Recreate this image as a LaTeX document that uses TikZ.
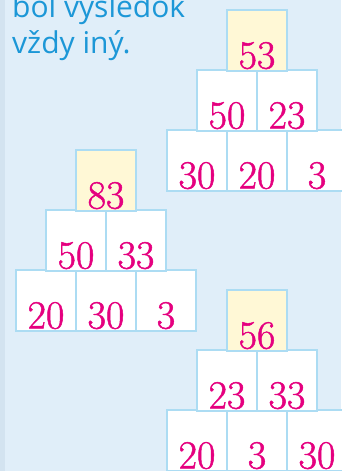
\documentclass[tikz,border=0pt]{standalone}
\usepackage{fontspec}
\newfontfamily\notefont{Open Sans}
\newfontfamily\numfont{Latin Modern Roman}[FakeBold=1.2]
\usetikzlibrary{positioning}
\definecolor{pagebg}{HTML}{E0EEF9}
\definecolor{edgebg}{HTML}{D3E3F0}
\definecolor{inkblue}{HTML}{1C97D7}
\definecolor{cellline}{HTML}{ACDCF3}
\definecolor{topfill}{HTML}{FFF8D6}
\definecolor{numpink}{HTML}{E5007F}

\begin{document}
\begin{tikzpicture}[
    x=1pt, y=-1pt,
    cell/.style={draw=cellline, line width=2pt, fill=white,
                 minimum width=60pt, minimum height=60pt,
                 inner sep=2pt, text height=57pt, text depth=0pt,
                 text=numpink, font=\numfont\fontsize{40}{40}\selectfont},
    topcell/.style={cell, fill=topfill},
  ]

  % Background
  \fill[pagebg] (0,0) rectangle (341,471);
  \fill[edgebg] (0,0) rectangle (5,471);
  \useasboundingbox (0,0) rectangle (341,471);

  % --- Text (top left) ---
  \node[anchor=base west, align=left, inner sep=0pt, text=inkblue,
        font=\notefont\fontsize{30}{36}\selectfont] (note) at (12,53)
    {bol výsledok\\vždy iný.};

  % --- Pyramid 1 (top right) ---
  \node[cell] (a1) at (197,160) {30};
  \node[cell] (a2) at (257,160) {20};
  \node[cell] (a3) at (317,160) {3};
  \node[cell] (a12) at (227,100) {50};
  \node[cell] (a23) at (287,100) {23};
  \node[topcell] (atop) at (257,40) {53};

  % --- Pyramid 2 (left) ---
  \node[cell] (b1) at (46,300) {20};
  \node[cell] (b2) at (106,300) {30};
  \node[cell] (b3) at (166,300) {3};
  \node[cell] (b12) at (76,240) {50};
  \node[cell] (b23) at (136,240) {33};
  \node[topcell] (btop) at (106,180) {83};

  % --- Pyramid 3 (bottom right) ---
  \node[cell] (c1) at (197,440) {20};
  \node[cell] (c2) at (257,440) {3};
  \node[cell] (c3) at (317,440) {30};
  \node[cell] (c12) at (227,380) {23};
  \node[cell] (c23) at (287,380) {33};
  \node[topcell] (ctop) at (257,320) {56};

\end{tikzpicture}
\end{document}
